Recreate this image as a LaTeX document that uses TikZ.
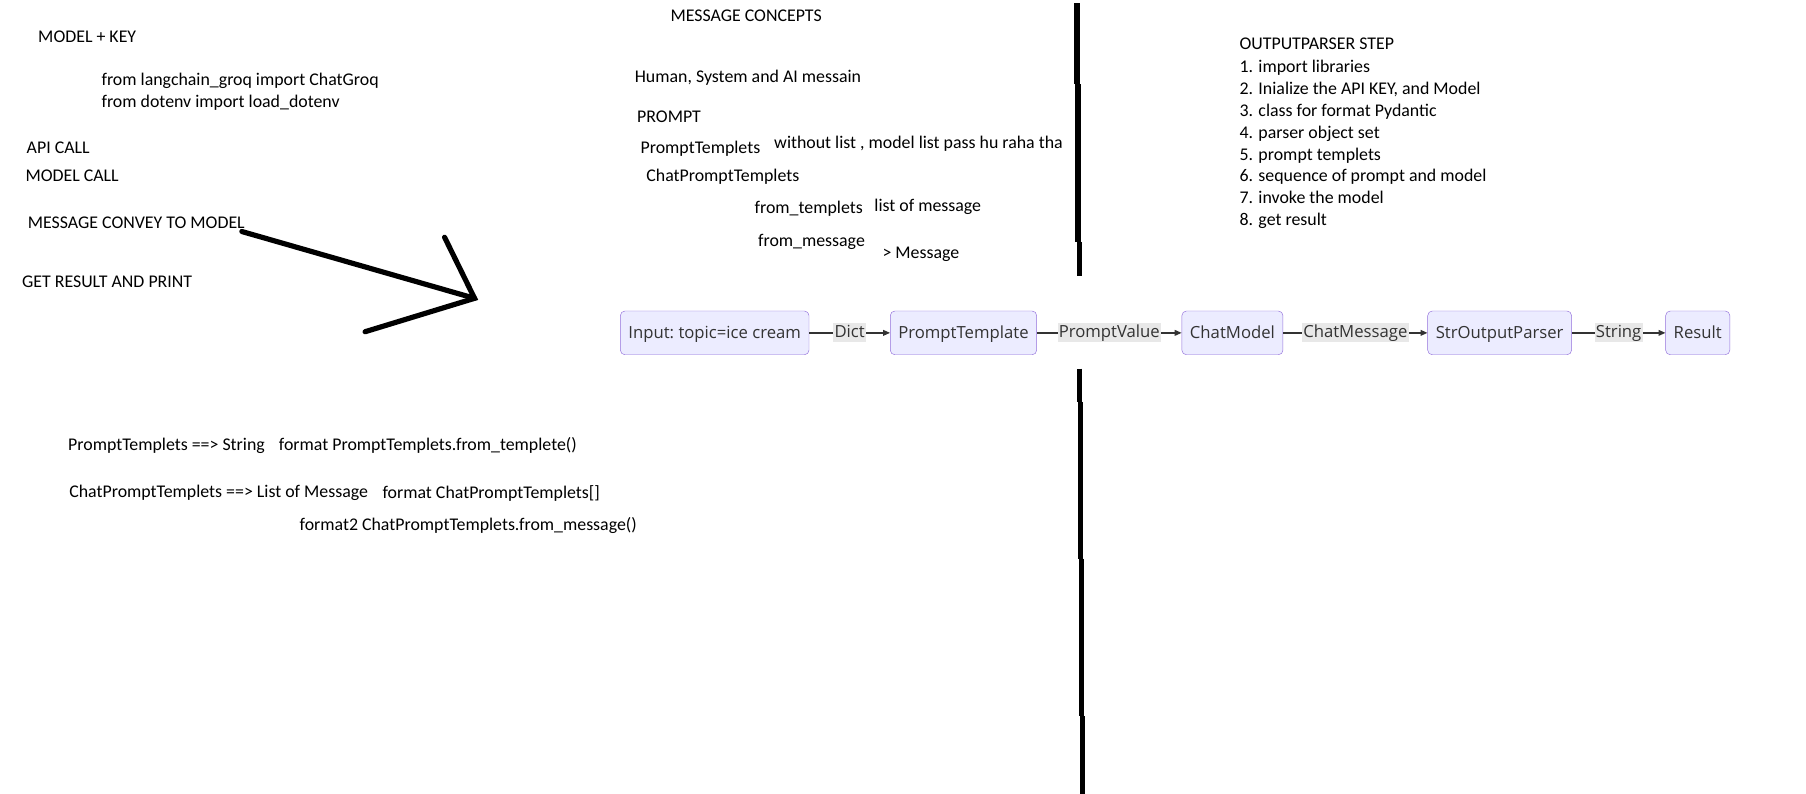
\documentclass[tikz,border=0pt]{standalone}
\usepackage{fontspec}
\setmainfont{Carlito}
\newfontfamily\mmdfont{Open Sans}
\usetikzlibrary{arrows.meta}
\definecolor{mmdfill}{HTML}{ECECFF}
\definecolor{mmdline}{HTML}{9370DB}
\definecolor{mmdtext}{HTML}{333333}
\definecolor{mmdlab}{HTML}{E8E8E8}
\begin{document}
\begin{tikzpicture}[x=1pt,y=-1pt,
	note/.style={anchor=base west,inner sep=0pt,font=\fontsize{15.5}{19}\selectfont},
	stage/.style={draw=mmdline,fill=mmdfill,rounded corners=4pt,minimum height=38pt,inner xsep=7pt,text height=12.5pt,text depth=2.5pt,text=mmdtext,font=\mmdfont\fontsize{14.5}{17}\selectfont},
	edgelab/.style={fill=mmdlab,inner sep=1pt,text height=11.5pt,text depth=3pt,text=mmdtext,font=\mmdfont\fontsize{14.5}{17}\selectfont},
	flow/.style={draw=mmdtext,line width=1.1pt,-{Triangle[length=6pt,width=5pt]}},
	pen/.style={line width=4.5pt,line cap=round}]
	\useasboundingbox[fill=white] (0,0) rectangle (1568,689);
	% left column
	\node[note] (modelkey) at (33,37) {MODEL + KEY};
	\node[note] (imp1) at (88,74) {from langchain\_groq import ChatGroq};
	\node[note] (imp2) at (88,93) {from dotenv import load\_dotenv};
	\node[note] (apicall) at (23,133) {API CALL};
	\node[note] (modelcall) at (22,158) {MODEL CALL};
	\node[note] (convey) at (24,198) {MESSAGE CONVEY TO MODEL};
	\node[note] (result) at (19,250) {GET RESULT AND PRINT};
	% hand drawn arrow
	\coordinate (tail) at (210,201);
	\coordinate (tip) at (412,259);
	\draw[pen] (tail) -- (tip);
	\draw[pen] (386,206) -- (tip) -- (317,288);
	% message concepts
	\node[note] (concepts) at (582,19) {MESSAGE CONCEPTS};
	\node[note] (kinds) at (551,72) {Human, System and AI messain};
	\node[note] (prompt) at (553,106) {PROMPT};
	\node[note] (pt) at (556,133) {PromptTemplets};
	\node[note] (ptnote) at (672,129) {without list , model list pass hu raha tha};
	\node[note] (cpt) at (561,158) {ChatPromptTemplets};
	\node[note] (fromt) at (655,185) {from\_templets};
	\node[note] (fromtnote) at (759,184) {list of message};
	\node[note] (fromm) at (658,214) {from\_message};
	\node[note] (frommnote) at (766,224) {> Message};
	% divider
	\draw[line width=4.5pt] (935,3) -- (935,73);
	\draw[line width=4.5pt] (936,73) -- (936,210);
	\draw[line width=4.5pt] (937,210) -- (937,240);
	\draw[line width=4.5pt] (937,320) -- (937,349);
	\draw[line width=4.5pt] (938,349) -- (938,485);
	\draw[line width=4.5pt] (939,485) -- (939,622);
	\draw[line width=4.5pt] (940,622) -- (940,689);
	% outputparser steps
	\node[note] (steps) at (1076,43) {OUTPUTPARSER STEP};
	\foreach \t [count=\i] in {import libraries,{Inialize the API KEY, and Model},class for format Pydantic,parser object set,prompt templets,sequence of prompt and model,invoke the model,get result}
		\node[note] (step\i) at (1076,44+19*\i) {\i. \t};
	% chain
	\node[stage] (input) at (620.5,289) {Input:\ topic=ice cream};
	\node[stage] (tmpl) at (836.5,289) {PromptTemplate};
	\node[stage] (chat) at (1070,289) {ChatModel};
	\node[stage] (parser) at (1302,289) {StrOutputParser};
	\node[stage] (res) at (1474,289) {Result};
	\draw[flow] (input) -- node[edgelab] {Dict} (tmpl);
	\draw[flow] (tmpl) -- node[edgelab] {PromptValue} (chat);
	\draw[flow] (chat) -- node[edgelab] {ChatMessage} (parser);
	\draw[flow] (parser) -- node[edgelab] {String} (res);
	% bottom notes
	\node[note] (ptstr) at (59,391) {PromptTemplets ==> String};
	\node[note] (ptfmt) at (242,391) {format PromptTemplets.from\_templete()};
	\node[note] (cptlist) at (60,432) {ChatPromptTemplets ==> List of Message};
	\node[note] (cptfmt) at (332,433) {format ChatPromptTemplets[]};
	\node[note] (cptfmt2) at (260,461) {format2 ChatPromptTemplets.from\_message()};
\end{tikzpicture}
\end{document}
